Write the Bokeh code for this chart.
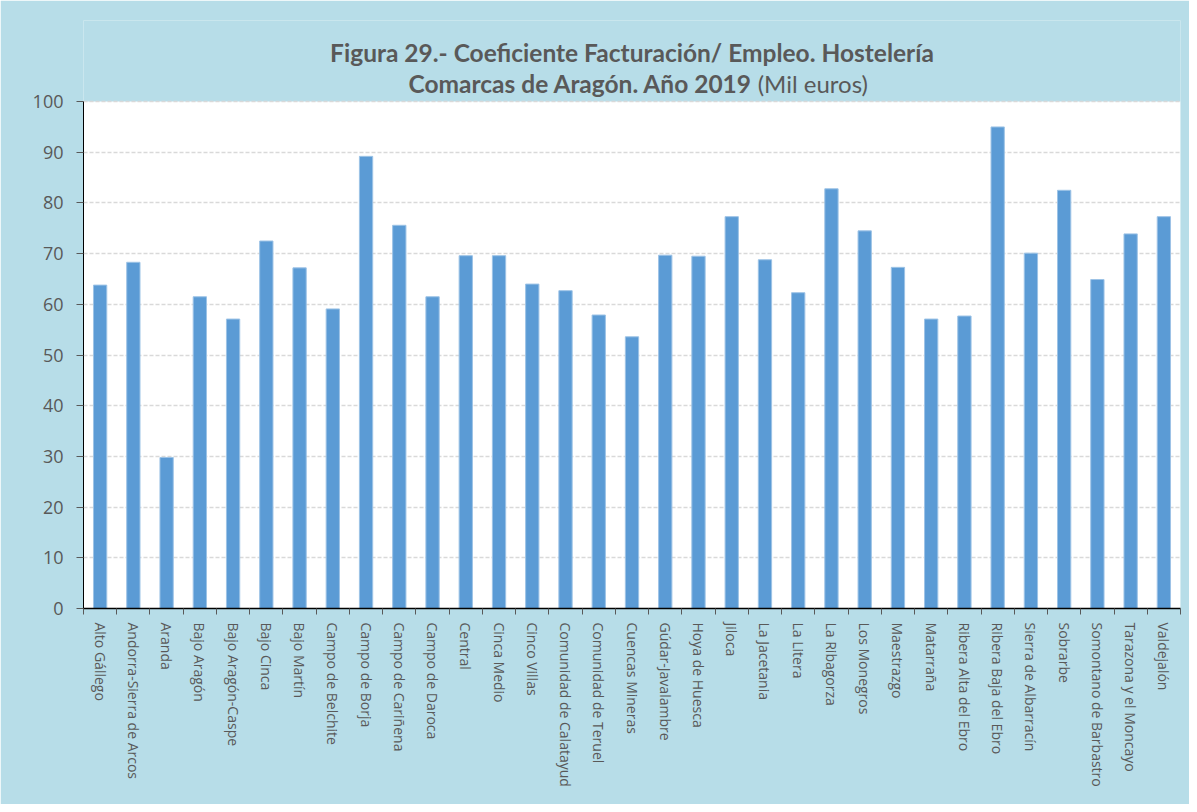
from bokeh.plotting import figure
from bokeh.models import (FactorRange, Range1d, LinearAxis, FixedTicker, Label, BoxAnnotation)
from bokeh.embed import file_html
from bokeh.resources import INLINE

categories = ["Alto Gállego", "Andorra-Sierra de Arcos", "Aranda", "Bajo Aragón",
              "Bajo Aragón-Caspe", "Bajo Cinca", "Bajo Martín", "Campo de Belchite",
              "Campo de Borja", "Campo de Cariñena", "Campo de Daroca", "Central",
              "Cinca Medio", "Cinco Villas", "Comunidad de Calatayud", "Comunidad de Teruel",
              "Cuencas Mineras", "Gúdar-Javalambre", "Hoya de Huesca", "Jiloca",
              "La Jacetania", "La Litera", "La Ribagorza", "Los Monegros", "Maestrazgo",
              "Matarraña", "Ribera Alta del Ebro", "Ribera Baja del Ebro",
              "Sierra de Albarracín", "Sobrarbe", "Somontano de Barbastro",
              "Tarazona y el Moncayo", "Valdejalón"]
values = [63.8, 68.3, 29.8, 61.5, 57.1, 72.5, 67.2, 59.1, 89.2, 75.6, 61.5, 69.6,
          69.6, 64.0, 62.7, 57.9, 53.6, 69.7, 69.5, 77.3, 68.8, 62.3, 82.8, 74.5,
          67.3, 57.1, 57.7, 95.0, 70.1, 82.5, 64.9, 73.9, 77.3]
y_ticks = list(range(0, 101, 10))
title_line1 = "Figura 29.- Coeficiente Facturación/ Empleo. Hostelería"
title_line2_bold = "Comarcas de Aragón. Año 2019"
title_line2_normal = " (Mil euros)"

BG = "#B7DDE8"
TXT = "#595959"
Y_MAX = 100
Y_TOP = 116  # room for the title inside the frame

n = len(categories)
p = figure(width=1189, height=804, output_backend="svg", toolbar_location=None,
           x_range=FactorRange(*categories), y_range=Range1d(0, Y_TOP),
           x_axis_location=None, y_axis_location=None,
           background_fill_color=BG, border_fill_color=BG,
           min_border_left=83, min_border_right=9, min_border_top=20, min_border_bottom=196)
p.outline_line_color = None

# white plot area
p.add_layout(BoxAnnotation(bottom=0, top=Y_MAX, fill_color="white", fill_alpha=1,
                           line_color=None, level="image"))

p.vbar(x=categories, top=values, width=0.4, fill_color="#5B9BD5",
       line_color="#9DC3E6", line_width=1)

# y axis
yax = LinearAxis(ticker=FixedTicker(ticks=y_ticks), bounds=(0, Y_MAX))
yax.axis_line_color = "#000000"
yax.major_tick_line_color = "#595959"
yax.major_tick_out = 7
yax.major_tick_in = 0
yax.minor_tick_line_color = None
yax.major_label_standoff = 13
yax.major_label_text_font = "Open Sans"
yax.major_label_text_font_size = "18px"
yax.major_label_text_color = TXT
p.add_layout(yax, "left")

# x axis: labels at category centres, tick marks at category boundaries
centres = [i + 0.5 for i in range(n)]
xax = LinearAxis(ticker=FixedTicker(ticks=centres, minor_ticks=list(range(n + 1))))
xax.major_label_overrides = {c: name for c, name in zip(centres, categories)}
xax.axis_line_color = "#000000"
xax.axis_line_width = 1.5
xax.major_tick_line_color = None
xax.major_tick_out = 6
xax.major_tick_in = 0
xax.minor_tick_line_color = "#595959"
xax.minor_tick_out = 6
xax.minor_tick_in = 0
xax.major_label_orientation = "vertical"
xax.major_label_standoff = 8
xax.major_label_text_font = "Open Sans"
xax.major_label_text_font_size = "14px"
xax.major_label_text_color = TXT
p.add_layout(xax, "below")

p.xgrid.grid_line_color = None
p.ygrid.ticker = FixedTicker(ticks=y_ticks)
p.ygrid.grid_line_color = "#D9D9D9"
p.ygrid.grid_line_dash = "4 2"
p.ygrid.grid_line_width = 1.5

mid = n / 2
p.add_layout(Label(x=mid, y=109.7, text=title_line1, text_font="Lato", text_font_style="bold",
                   text_font_size="24.5px", text_color=TXT, text_align="center",
                   text_baseline="alphabetic"))
p.add_layout(Label(x=20.13, y=103.5, text=title_line2_bold, text_font="Lato", text_font_style="bold",
                   text_font_size="24.5px", text_color=TXT, text_align="right",
                   text_baseline="alphabetic"))
p.add_layout(Label(x=20.28, y=103.5, text=title_line2_normal, text_font="Lato",
                   text_font_size="24px", text_color=TXT, text_align="left",
                   text_baseline="alphabetic"))

open("out.html", "w").write(file_html(p, INLINE))
